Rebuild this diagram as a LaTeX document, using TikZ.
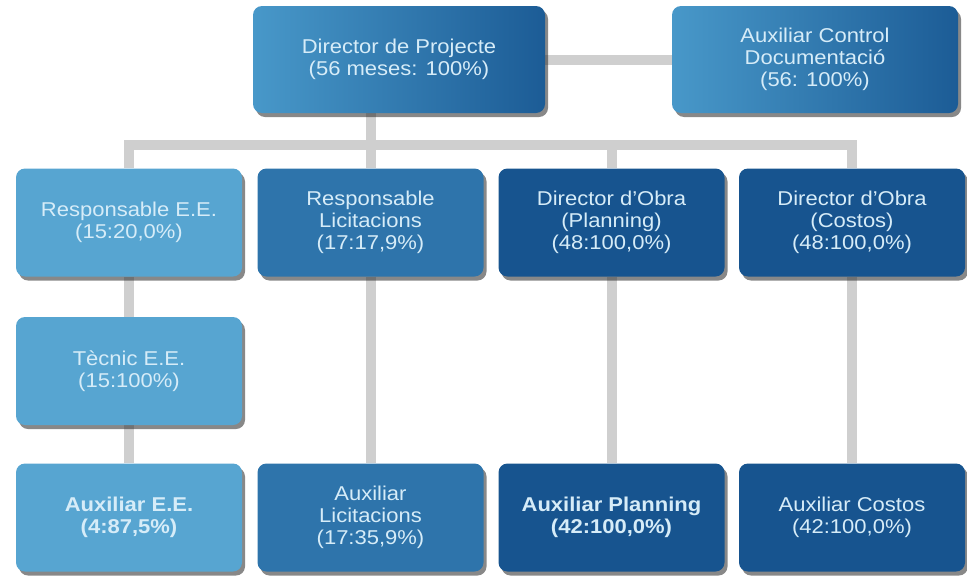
\documentclass[tikz,border=0pt]{standalone}
\usepackage{fontspec}
\setmainfont{Liberation Sans}[FakeStretch=1.1]
\usetikzlibrary{shadows,backgrounds}
\definecolor{colA}{HTML}{57A5D1}
\definecolor{colB}{HTML}{2E74AB}
\definecolor{colC}{HTML}{17548F}
\definecolor{topL}{HTML}{4898C9}
\definecolor{topR}{HTML}{1C5C96}
\definecolor{txt}{HTML}{D6ECF8}
\definecolor{linkgrey}{HTML}{CFCFCF}
\tikzset{
  box/.style={rectangle, rounded corners=9pt, minimum width=226pt, minimum height=108pt,
    inner sep=0pt, align=center, text=txt, font=\fontsize{20}{22}\selectfont,
    drop shadow={shadow xshift=3pt, shadow yshift=-4pt, opacity=0.55, fill=black!85}},
  topbox/.style={box, left color=topL, right color=topR, minimum height=107pt},
  boxA/.style={box, fill=colA},
  boxB/.style={box, fill=colB},
  boxC/.style={box, fill=colC},
  link/.style={line width=10pt, draw=linkgrey, line join=miter}
}
\begin{document}
\begin{tikzpicture}[x=1pt,y=1pt]
\useasboundingbox (0,0) rectangle (967,-576);
% top row
\node[topbox, minimum width=292pt] (dir) at (399,-59.5) {Director de Projecte\\(56 meses: 100\%)};
\node[topbox, minimum width=286pt] (aux) at (815,-59.5) {Auxiliar Control\\Documentació\\(56: 100\%)};
% second row
\node[boxA] (r1) at (129,-222.5) {Responsable E.E.\\(15:20,0\%)};
\node[boxB] (r2) at (370.5,-222.5) {Responsable\\Licitacions\\(17:17,9\%)};
\node[boxC] (r3) at (611.5,-222.5) {Director d’Obra\\(Planning)\\(48:100,0\%)};
\node[boxC] (r4) at (852,-222.5) {Director d’Obra\\(Costos)\\(48:100,0\%)};
% third row
\node[boxA] (t1) at (129,-371) {Tècnic E.E.\\(15:100\%)};
% fourth row
\node[boxA, font=\fontsize{20}{22}\selectfont\bfseries] (a1) at (129,-517.5) {Auxiliar E.E.\\(4:87,5\%)};
\node[boxB] (a2) at (370.5,-517.5) {Auxiliar\\Licitacions\\(17:35,9\%)};
\node[boxC, font=\fontsize{20}{22}\selectfont\bfseries] (a3) at (611.5,-517.5) {Auxiliar Planning\\(42:100,0\%)};
\node[boxC] (a4) at (852,-517.5) {Auxiliar Costos\\(42:100,0\%)};
\coordinate (bar) at (0,-145);
\begin{scope}[on background layer]
  \draw[link] (dir.east) -- (aux.west);
  \draw[link] (dir.south -| r2.north) -- (r2.north);
  \draw[link] (r1.north) -- (r1.north |- bar) -- (r4.north |- bar) -- (r4.north);
  \draw[link] (r3.north |- bar) -- (r3.north);
  \draw[link] (r1.south) -- (t1.north);
  \draw[link] (t1.south) -- (a1.north);
  \draw[link] (r2.south) -- (a2.north);
  \draw[link] (r3.south) -- (a3.north);
  \draw[link] (r4.south) -- (a4.north);
\end{scope}
\end{tikzpicture}
\end{document}
